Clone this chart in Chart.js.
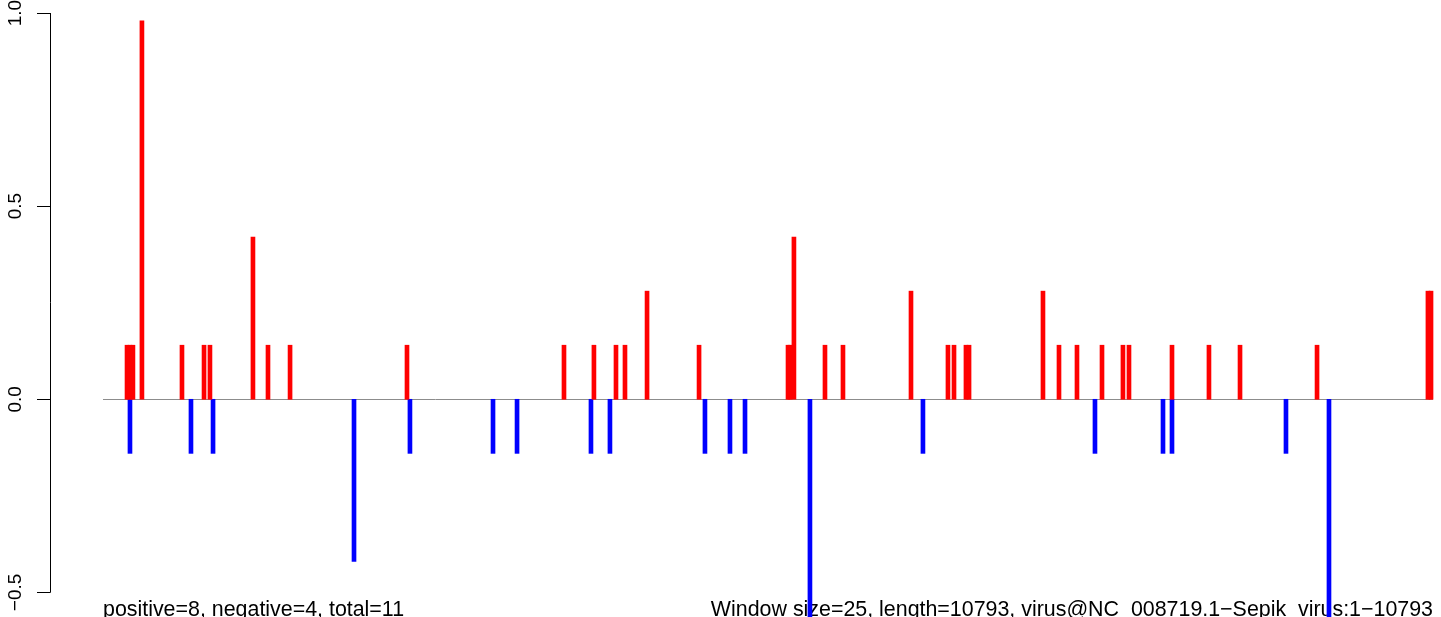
<!DOCTYPE html>
<html>
<head>
<meta charset="utf-8">
<script src="https://cdn.jsdelivr.net/npm/chart.js@4"></script>
<style>
  html, body { margin: 0; padding: 0; background: #ffffff; }
  canvas { display: block; }
</style>
</head>
<body>
<canvas id="windowChart" width="1441" height="617"></canvas>
<script>
// Posiciones (nt) y puntuaciones de cada ventana
const posX = [195, 219, 243, 316, 641, 820, 868, 1217, 1339, 1518, 2467, 3741, 3984, 4163, 4236, 4415,
    4837, 5559, 5575, 5607, 5859, 6005, 6557, 6857, 6906, 7003, 7028, 7628, 7758, 7904, 8107, 8277,
    8326, 8675, 8975, 9227, 9852, 10752, 10777];
const posY = [0.14, 0.14, 0.14, 0.98, 0.14, 0.14, 0.14, 0.42, 0.14, 0.14, 0.14, 0.14, 0.14, 0.14, 0.14, 0.28,
    0.14, 0.14, 0.14, 0.42, 0.14, 0.14, 0.28, 0.14, 0.14, 0.14, 0.14, 0.28, 0.14, 0.14, 0.14, 0.14,
    0.14, 0.14, 0.14, 0.14, 0.14, 0.28, 0.28];

const negX = [219, 714, 893, 2037, 2491, 3165, 3360, 3960, 4114, 4885, 5088, 5210, 5737, 6654, 8050,
    8602, 8675, 9600, 9949];
const negY = [-0.14, -0.14, -0.14, -0.42, -0.14, -0.14, -0.14, -0.14, -0.14, -0.14, -0.14, -0.14, -0.57,
    -0.14, -0.14, -0.14, -0.14, -0.14, -0.57];

const yTicks = [-0.5, 0.0, 0.5, 1.0];
const seqLength = 10793;
const leftNote = 'positive=8, negative=4, total=11';
const rightNote = 'Window size=25, length=10793, virus@NC_008719.1\u2212Sepik_virus:1\u221210793';

const FONT = "'Liberation Sans', Arial, Helvetica, sans-serif";

// Ejes estilo R + textos inferiores
const rAxisPlugin = {
    id: 'rAxis',
    beforeDatasetsDraw(chart) {
        const { ctx, scales } = chart;
        const x = scales.x, y = scales.y;
        ctx.save();

        // linea base en 0
        const y0 = Math.round(y.getPixelForValue(0)) + 0.5;
        ctx.strokeStyle = '#8c8c8c';
        ctx.lineWidth = 1;
        ctx.beginPath();
        ctx.moveTo(x.getPixelForValue(0), y0);
        ctx.lineTo(x.getPixelForValue(seqLength), y0);
        ctx.stroke();

        // eje Y
        const ax = 50.5;
        ctx.strokeStyle = '#000000';
        ctx.beginPath();
        ctx.moveTo(ax, y.getPixelForValue(yTicks[yTicks.length - 1]));
        ctx.lineTo(ax, y.getPixelForValue(yTicks[0]));
        yTicks.forEach(t => {
            const py = Math.round(y.getPixelForValue(t)) + 0.5;
            ctx.moveTo(ax, py);
            ctx.lineTo(37, py);
        });
        ctx.stroke();

        ctx.fillStyle = '#000000';
        ctx.font = '19px ' + FONT;
        yTicks.forEach(t => {
            const py = y.getPixelForValue(t);
            ctx.save();
            ctx.translate(21, py);
            ctx.rotate(-Math.PI / 2);
            ctx.textAlign = 'center';
            ctx.textBaseline = 'alphabetic';
            ctx.fillText(t.toFixed(1).replace('-', '\u2212'), 0, 0);
            ctx.restore();
        });

        // notas inferiores
        ctx.font = '21.4px ' + FONT;
        ctx.textBaseline = 'alphabetic';
        ctx.textAlign = 'left';
        ctx.fillText(leftNote, x.getPixelForValue(0), 616);
        ctx.textAlign = 'right';
        ctx.fillText(rightNote, x.getPixelForValue(seqLength), 616);

        ctx.restore();
    }
};

const ctx = document.getElementById('windowChart').getContext('2d');

new Chart(ctx, {
    type: 'bar',
    data: {
        datasets: [
            {
                label: 'positive',
                data: posX.map((v, i) => ({ x: v, y: posY[i] })),
                backgroundColor: '#ff0000',
                borderWidth: 0,
                barThickness: 4
            },
            {
                label: 'negative',
                data: negX.map((v, i) => ({ x: v, y: negY[i] })),
                backgroundColor: '#0000ff',
                borderWidth: 0,
                barThickness: 4
            }
        ]
    },
    options: {
        responsive: false,
        animation: false,
        grouped: false,
        layout: { padding: { left: 50, right: 0, top: 0, bottom: 0 } },
        scales: {
            x: {
                type: 'linear',
                min: -430,
                max: 10858,
                offset: false,
                display: false
            },
            y: {
                min: -0.5636,
                max: 1.0337,
                display: false
            }
        },
        plugins: {
            legend: { display: false },
            tooltip: { enabled: false }
        }
    },
    plugins: [rAxisPlugin]
});
</script>
</body>
</html>
